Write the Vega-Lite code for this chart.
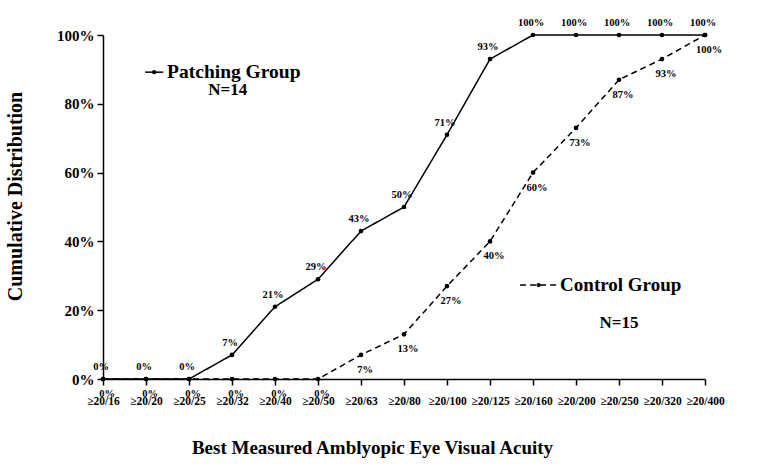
{
  "$schema": "https://vega.github.io/schema/vega-lite/v6.json",
  "width": 602,
  "height": 344,
  "autosize": {"type": "none"},
  "padding": {"left": 103, "top": 35, "right": 64, "bottom": 90},
  "background": "white",
  "config": {
    "view": {"stroke": null},
    "font": "Liberation Serif",
    "axis": {"grid": false, "domainColor": "black", "tickColor": "black", "labelColor": "black", "titleColor": "black", "labelFont": "Liberation Serif", "titleFont": "Liberation Serif", "labelFontWeight": "bold", "titleFontWeight": "bold", "domainWidth": 1.5, "tickWidth": 1.5}
  },
  "datasets": {
    "main": [
      {"idx": 0, "group": "Patching", "value": 0},
      {"idx": 1, "group": "Patching", "value": 0},
      {"idx": 2, "group": "Patching", "value": 0},
      {"idx": 3, "group": "Patching", "value": 0.07},
      {"idx": 4, "group": "Patching", "value": 0.21},
      {"idx": 5, "group": "Patching", "value": 0.29},
      {"idx": 6, "group": "Patching", "value": 0.43},
      {"idx": 7, "group": "Patching", "value": 0.50},
      {"idx": 8, "group": "Patching", "value": 0.71},
      {"idx": 9, "group": "Patching", "value": 0.93},
      {"idx": 10, "group": "Patching", "value": 1.0},
      {"idx": 11, "group": "Patching", "value": 1.0},
      {"idx": 12, "group": "Patching", "value": 1.0},
      {"idx": 13, "group": "Patching", "value": 1.0},
      {"idx": 14, "group": "Patching", "value": 1.0},
      {"idx": 0, "group": "Control", "value": 0},
      {"idx": 1, "group": "Control", "value": 0},
      {"idx": 2, "group": "Control", "value": 0},
      {"idx": 3, "group": "Control", "value": 0},
      {"idx": 4, "group": "Control", "value": 0},
      {"idx": 5, "group": "Control", "value": 0},
      {"idx": 6, "group": "Control", "value": 0.07},
      {"idx": 7, "group": "Control", "value": 0.13},
      {"idx": 8, "group": "Control", "value": 0.27},
      {"idx": 9, "group": "Control", "value": 0.40},
      {"idx": 10, "group": "Control", "value": 0.60},
      {"idx": 11, "group": "Control", "value": 0.73},
      {"idx": 12, "group": "Control", "value": 0.87},
      {"idx": 13, "group": "Control", "value": 0.93},
      {"idx": 14, "group": "Control", "value": 1.0}
    ],
    "one": [{}]
  },
  "layer": [
    {
      "data": {"name": "main"},
      "mark": {"type": "line", "color": "black", "strokeWidth": 1.5},
      "encoding": {
        "x": {"field": "idx", "type": "quantitative", "scale": {"domain": [0, 14], "nice": false, "zero": false},
          "axis": {"values": [0,1,2,3,4,5,6,7,8,9,10,11,12,13,14], "labelExpr": "['≥20/16','≥20/20','≥20/25','≥20/32','≥20/40','≥20/50','≥20/63','≥20/80','≥20/100','≥20/125','≥20/160','≥20/200','≥20/250','≥20/320','≥20/400'][datum.value]", "labelFontSize": 11.5, "tickSize": 6, "labelPadding": 10, "labelFlush": false, "labelOverlap": false, "title": "Best Measured Amblyopic Eye Visual Acuity", "titleFontSize": 19, "titleX": 269, "titleY": 59, "titleAlign": "center"}},
        "y": {"field": "value", "type": "quantitative", "scale": {"domain": [0, 1], "nice": false},
          "axis": {"values": [0, 0.2, 0.4, 0.6, 0.8, 1.0], "format": ".0%", "labelFontSize": 15, "tickSize": 6, "labelPadding": 3, "title": "Cumulative Distribution", "titleFontSize": 20, "titleX": -78, "titleY": 161, "titleAlign": "center", "titleAngle": -90}},
        "strokeDash": {"field": "group", "type": "nominal", "scale": {"domain": ["Patching", "Control"], "range": [[1, 0], [6, 4]]}, "legend": null},
        "detail": {"field": "group"}
      }
    },
    {
      "data": {"name": "main"},
      "mark": {"type": "point", "filled": true, "color": "black", "size": 22, "opacity": 1},
      "encoding": {
        "x": {"field": "idx", "type": "quantitative"},
        "y": {"field": "value", "type": "quantitative"}
      }
    },
    {
      "data": {"name": "main"},
      "transform": [{"filter": "datum.group == 'Patching'"}],
      "mark": {"type": "text", "font": "Liberation Serif", "fontWeight": "bold", "fontSize": 10.5, "baseline": "bottom", "dy": -7, "dx": -2, "color": "black"},
      "encoding": {
        "x": {"field": "idx", "type": "quantitative"},
        "y": {"field": "value", "type": "quantitative"},
        "text": {"field": "value", "type": "quantitative", "format": ".0%"}
      }
    },
    {
      "data": {"name": "main"},
      "transform": [{"filter": "datum.group == 'Control'"}],
      "mark": {"type": "text", "font": "Liberation Serif", "fontWeight": "bold", "fontSize": 10.5, "baseline": "top", "dy": 10, "dx": 4, "color": "black"},
      "encoding": {
        "x": {"field": "idx", "type": "quantitative"},
        "y": {"field": "value", "type": "quantitative"},
        "text": {"field": "value", "type": "quantitative", "format": ".0%"}
      }
    },
    {
      "data": {"name": "one"},
      "mark": {"type": "rule", "color": "black", "strokeWidth": 1.5},
      "encoding": {"x": {"datum": 0.98}, "x2": {"datum": 1.4}, "y": {"datum": 0.892}}
    },
    {
      "data": {"name": "one"},
      "mark": {"type": "point", "filled": true, "color": "black", "size": 18, "opacity": 1},
      "encoding": {"x": {"datum": 1.19}, "y": {"datum": 0.892}}
    },
    {
      "data": {"name": "one"},
      "mark": {"type": "text", "font": "Liberation Serif", "fontWeight": "bold", "fontSize": 19.5, "align": "left", "baseline": "middle", "text": "Patching Group", "color": "black"},
      "encoding": {"x": {"datum": 1.49}, "y": {"datum": 0.892}}
    },
    {
      "data": {"name": "one"},
      "mark": {"type": "text", "font": "Liberation Serif", "fontWeight": "bold", "fontSize": 17, "align": "center", "baseline": "middle", "text": "N=14", "color": "black"},
      "encoding": {"x": {"datum": 2.9}, "y": {"datum": 0.84}}
    },
    {
      "data": {"name": "one"},
      "mark": {"type": "rule", "color": "black", "strokeWidth": 1.5, "strokeDash": [6, 4]},
      "encoding": {"x": {"datum": 9.7}, "x2": {"datum": 10.56}, "y": {"datum": 0.273}}
    },
    {
      "data": {"name": "one"},
      "mark": {"type": "point", "filled": true, "color": "black", "size": 18, "opacity": 1},
      "encoding": {"x": {"datum": 10.13}, "y": {"datum": 0.273}}
    },
    {
      "data": {"name": "one"},
      "mark": {"type": "text", "font": "Liberation Serif", "fontWeight": "bold", "fontSize": 19, "align": "left", "baseline": "middle", "text": "Control Group", "color": "black"},
      "encoding": {"x": {"datum": 10.63}, "y": {"datum": 0.273}}
    },
    {
      "data": {"name": "one"},
      "mark": {"type": "text", "font": "Liberation Serif", "fontWeight": "bold", "fontSize": 17, "align": "center", "baseline": "middle", "text": "N=15", "color": "black"},
      "encoding": {"x": {"datum": 12.0}, "y": {"datum": 0.163}}
    }
  ]
}
